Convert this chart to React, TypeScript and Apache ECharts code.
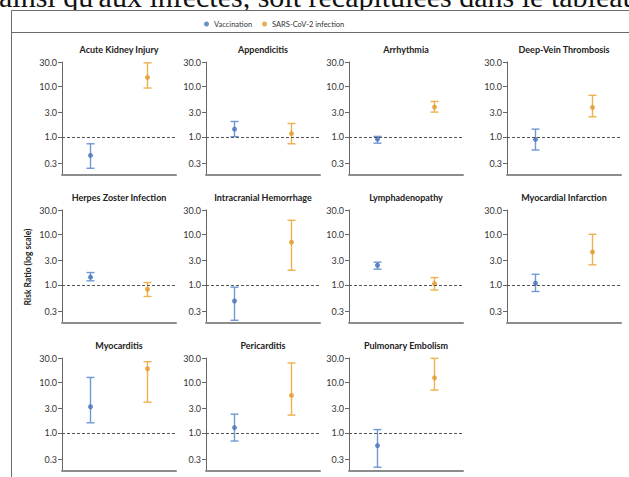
import React, { useEffect, useRef } from "react";
import * as echarts from "echarts";

// ---- data ----
const panelTitles = [
  "Acute Kidney Injury",
  "Appendicitis",
  "Arrhythmia",
  "Deep-Vein Thrombosis",
  "Herpes Zoster Infection",
  "Intracranial Hemorrhage",
  "Lymphadenopathy",
  "Myocardial Infarction",
  "Myocarditis",
  "Pericarditis",
  "Pulmonary Embolism",
];
const groups = ["Vaccination", "SARS-CoV-2 infection"];
const vaccEstimate = [0.43, 1.42, 0.9, 0.89, 1.42, 0.48, 2.44, 1.08, 3.27, 1.27, 0.56];
const vaccLower = [0.24, 1.01, 0.75, 0.55, 1.2, 0.2, 2.04, 0.74, 1.58, 0.69, 0.21];
const vaccUpper = [0.73, 2.01, 1.02, 1.42, 1.75, 0.9, 2.8, 1.62, 12.4, 2.34, 1.16];
const infEstimate = [14.9, 1.16, 3.87, 3.81, 0.82, 6.92, 1.05, 4.47, 18.4, 5.47, 12.2];
const infLower = [9.2, 0.73, 3.08, 2.49, 0.59, 1.94, 0.79, 2.48, 4.04, 2.24, 6.98];
const infUpper = [28.8, 1.84, 5.0, 6.6, 1.11, 18.8, 1.39, 9.95, 25.4, 23.9, 29.5];
const tickValues = [0.3, 1, 3, 10, 30];
const axisMin = 0.18;
const axisMax = 30;
const refValue = 1;
const yAxisTitle = "Risk Ratio (log scale)";
const pageText = "ainsi qu'aux infectés, soit récapitulées dans le tableau";

// ---- layout / style ----
const colLefts = [62, 206, 349, 507];
const rowTops = [62, 210, 358];
const gridW = 114;
const gridH = 112.6;
const SANS = "Lato, 'Noto Sans', sans-serif";
const colors = {
  vaccPoint: "#4373bd",
  vaccBar: "#6f98d3",
  infPoint: "#e3992b",
  infBar: "#efb04f",
};

const lg = (v: number) => Math.log10(v);

function buildOption() {
  const grids: any[] = [];
  const xAxes: any[] = [];
  const yAxes: any[] = [];
  const series: any[] = [];
  const graphics: any[] = [];

  graphics.push({
    type: "text",
    x: -1,
    y: -4,
    z: -20,
    style: {
      text: pageText,
      font: "30px 'Liberation Serif', 'Times New Roman', serif",
      fill: "#111",
      textVerticalAlign: "middle",
    },
  });
  graphics.push({
    type: "rect",
    z: -10,
    shape: { x: 11.5, y: 10.5, width: 700, height: 520 },
    style: { fill: "#fff", stroke: "#6a6a6a", lineWidth: 1 },
  });
  graphics.push({
    type: "line",
    z: -5,
    shape: { x1: 11.5, y1: 32.5, x2: 640, y2: 32.5 },
    style: { stroke: "#6a6a6a", lineWidth: 1 },
  });
  graphics.push({
    type: "text",
    x: 28,
    y: 267,
    z: 3,
    rotation: Math.PI / 2,
    style: {
      text: yAxisTitle,
      font: `bold 8.5px ${SANS}`,
      fill: "#222",
      textAlign: "center",
      textVerticalAlign: "middle",
    },
  });

  panelTitles.forEach((title, i) => {
    const col = i % 4;
    const row = Math.floor(i / 4);
    const left = colLefts[col];
    const top = rowTops[row];
    grids.push({ left, top, width: gridW, height: gridH, containLabel: false });
    xAxes.push({
      gridIndex: i,
      type: "category",
      data: groups,
      boundaryGap: true,
      position: "bottom",
      z: 3,
      axisLine: { show: true, onZero: false, lineStyle: { color: "#8c8c8c", width: 2 } },
      axisTick: { show: false },
      axisLabel: { show: false },
      splitLine: { show: false },
    });
    yAxes.push({
      gridIndex: i,
      type: "value",
      min: lg(axisMin),
      max: lg(axisMax),
      z: 3,
      axisLine: { show: true, onZero: false, lineStyle: { color: "#666", width: 1 } },
      axisTick: {
        show: true,
        length: 4,
        customValues: tickValues.map(lg),
        lineStyle: { color: "#666", width: 1 },
      },
      axisLabel: {
        show: true,
        customValues: tickValues.map(lg),
        margin: 5,
        fontSize: 9,
        fontFamily: SANS,
        color: "#333",
        formatter: (v: number) => Math.pow(10, v).toFixed(1),
      },
      splitLine: { show: false },
    });
    graphics.push({
      type: "text",
      x: left + gridW / 2,
      y: top - 12.5,
      z: 3,
      style: {
        text: title,
        font: `bold 9px ${SANS}`,
        fill: "#222",
        textAlign: "center",
        textVerticalAlign: "middle",
      },
    });

    const makeBars = (name: string, idx: number, lo: number, hi: number, color: string) => ({
      name,
      type: "custom",
      xAxisIndex: i,
      yAxisIndex: i,
      z: 3,
      silent: true,
      data: [[idx, lg(lo), lg(hi)]],
      renderItem: (params: any, api: any) => {
        const x = api.value(0);
        const p1 = api.coord([x, api.value(1)]);
        const p2 = api.coord([x, api.value(2)]);
        const cap = 4;
        const st = { stroke: color, lineWidth: 1.4 };
        return {
          type: "group",
          children: [
            { type: "line", shape: { x1: p1[0], y1: p1[1], x2: p2[0], y2: p2[1] }, style: st },
            { type: "line", shape: { x1: p1[0] - cap, y1: p1[1], x2: p1[0] + cap, y2: p1[1] }, style: st },
            { type: "line", shape: { x1: p2[0] - cap, y1: p2[1], x2: p2[0] + cap, y2: p2[1] }, style: st },
          ],
        };
      },
    });

    series.push({
      name: groups[0],
      type: "scatter",
      xAxisIndex: i,
      yAxisIndex: i,
      z: 4,
      symbol: "circle",
      symbolSize: 5,
      itemStyle: { color: colors.vaccPoint },
      data: [[0, lg(vaccEstimate[i])]],
      markLine: {
        silent: true,
        symbol: ["none", "none"],
        label: { show: false },
        lineStyle: { type: [3, 2], color: "#555", width: 1 },
        emphasis: { disabled: true },
        data: [{ yAxis: lg(refValue) }],
      },
    });
    series.push({
      name: groups[1],
      type: "scatter",
      xAxisIndex: i,
      yAxisIndex: i,
      z: 4,
      symbol: "circle",
      symbolSize: 5,
      itemStyle: { color: colors.infPoint },
      data: [[1, lg(infEstimate[i])]],
    });
    series.push(makeBars(groups[0], 0, vaccLower[i], vaccUpper[i], colors.vaccBar));
    series.push(makeBars(groups[1], 1, infLower[i], infUpper[i], colors.infBar));
  });

  return {
    animation: false,
    legend: {
      data: groups.map((name) => ({ name, icon: "circle" })),
      left: 199,
      top: 15,
      itemWidth: 5,
      itemHeight: 5,
      itemGap: 10,
      selectedMode: false,
      textStyle: { fontSize: 7.5, fontFamily: SANS, color: "#333" },
    },
    grid: grids,
    xAxis: xAxes,
    yAxis: yAxes,
    series,
    graphic: { elements: graphics },
  };
}

export default function App() {
  const ref = useRef<HTMLDivElement>(null);
  useEffect(() => {
    if (!ref.current) return;
    const chart = echarts.init(ref.current, undefined, { renderer: "svg" });
    chart.setOption(buildOption() as any);
    return () => chart.dispose();
  }, []);
  return (
    <div
      ref={ref}
      style={{ position: "absolute", left: 0, top: 0, width: 629, height: 477, background: "#fff" }}
    />
  );
}
